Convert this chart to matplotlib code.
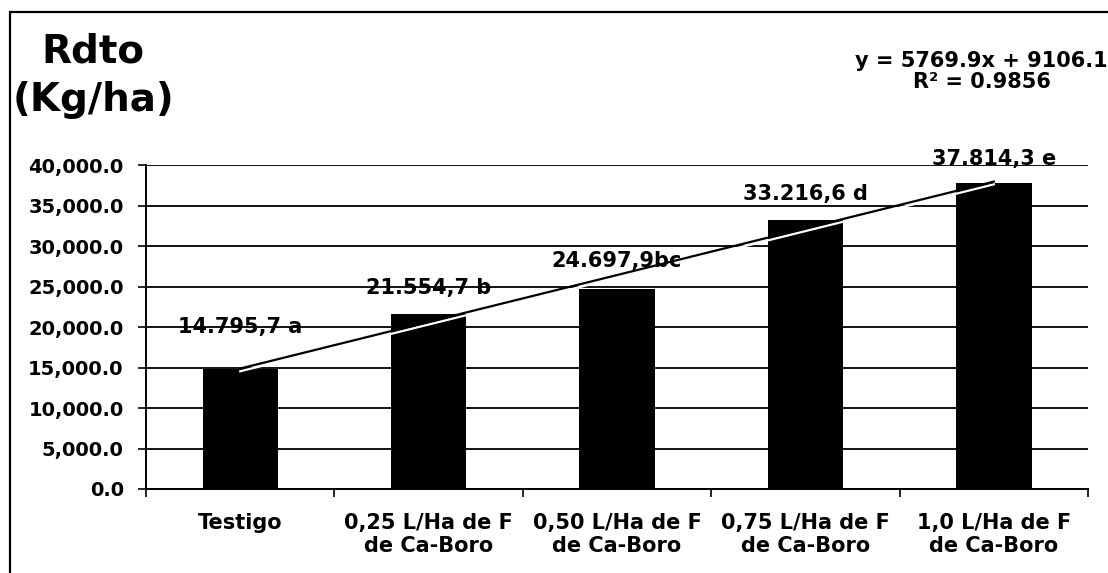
import matplotlib
matplotlib.use("Agg")
import matplotlib.pyplot as plt
import matplotlib.patheffects as pe
from matplotlib.patches import Rectangle
from matplotlib.ticker import FixedLocator, FuncFormatter
import numpy as np

# ---------------------------------------------------------------------------
# Data
# ---------------------------------------------------------------------------
categories = [
    "Testigo",
    "0,25 L/Ha de F\nde Ca-Boro",
    "0,50 L/Ha de F\nde Ca-Boro",
    "0,75 L/Ha de F\nde Ca-Boro",
    "1,0 L/Ha de F\nde Ca-Boro",
]
yields = [14795.7, 21554.7, 24697.9, 33216.6, 37814.3]
bar_labels = ["14.795,7 a", "21.554,7 b", "24.697,9bc", "33.216,6 d", "37.814,3 e"]
y_ticks = [0, 5000, 10000, 15000, 20000, 25000, 30000, 35000, 40000]

# label offsets above each bar (points)
label_offsets = [30, 19, 20, 19, 17]

plt.rcParams["font.family"] = ["DejaVu Sans"]
plt.rcParams["font.weight"] = "bold"

fig = plt.figure(figsize=(11.08, 5.73), dpi=100)
ax = fig.add_axes([0.1318, 0.1466, 0.982 - 0.1318, 0.712 - 0.1466])

x = np.arange(len(categories))
ax.bar(x, yields, width=0.4, color="black", zorder=2)

# linear trend over category index 1..n (Excel style)
xi = x + 1
slope, intercept = np.polyfit(xi, yields, 1)
fit = slope * xi + intercept
r2 = 1 - np.sum((np.array(yields) - fit) ** 2) / np.sum((np.array(yields) - np.mean(yields)) ** 2)
ax.plot([x[0], x[-1]], [fit[0], fit[-1]], color="black", lw=1.6, zorder=3,
        path_effects=[pe.SimpleLineShadow(offset=(0, -2), shadow_color="white", alpha=1.0),
                      pe.Normal()])

for xpos, val, lab, off in zip(x, yields, bar_labels, label_offsets):
    ax.annotate(lab, (xpos, val), xytext=(0, off), textcoords="offset points",
                ha="center", va="center", fontsize=15, fontweight="bold", zorder=4)

# axes styling
ax.set_xlim(-0.5, len(categories) - 0.5)
ax.set_ylim(0, 40000)
ax.yaxis.set_major_locator(FixedLocator(y_ticks))
ax.yaxis.set_major_formatter(FuncFormatter(lambda v, p: f"{v:,.1f}"))
ax.grid(axis="y", color="black", lw=1.3, zorder=0)
ax.set_axisbelow(True)
ax.tick_params(axis="y", direction="out", length=6, width=1.2, pad=10, labelsize=14)

ax.set_xticks(x)
ax.set_xticklabels(categories, fontsize=15, fontweight="bold")
ax.set_xticks(np.arange(-0.5, len(categories)), minor=True)
ax.tick_params(axis="x", which="major", length=0, pad=17)
ax.tick_params(axis="x", which="minor", direction="out", length=6, width=1.2)
for lab in ax.get_yticklabels():
    lab.set_fontweight("bold")

for side in ["top", "right"]:
    ax.spines[side].set_visible(False)
for side in ["left", "bottom"]:
    ax.spines[side].set_linewidth(1.4)

# titles / equation
fig.text(0.084, 0.867, "Rdto\n(Kg/ha)", ha="center", va="center", fontsize=28,
         fontweight="bold", linespacing=1.35)
fig.text(0.886, 0.875, f"y = {slope:.1f}x + {intercept:.1f}\nR² = {r2:.4f}",
         ha="center", va="center", fontsize=15, fontweight="bold", linespacing=1.05)

# outer chart border
fig.add_artist(Rectangle((10 / 1108, -0.02), 1.1, 1 - 12 / 573 + 0.02,
                         transform=fig.transFigure, fill=False, lw=1.6,
                         edgecolor="black"))

fig.savefig("out.png", dpi=100)
